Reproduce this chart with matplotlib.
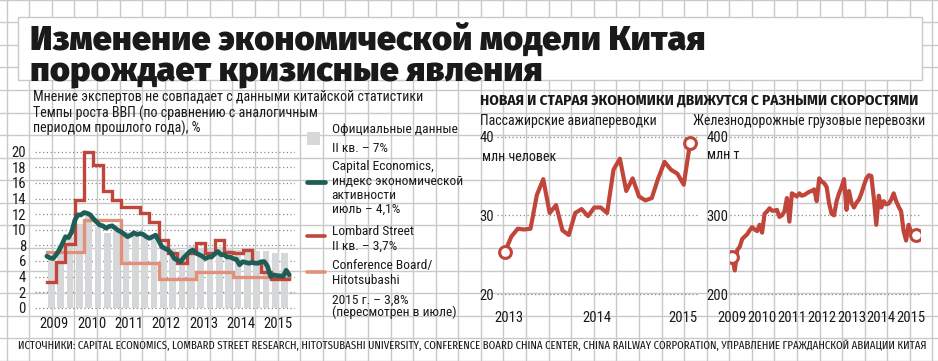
import matplotlib
matplotlib.use("Agg")
import matplotlib.pyplot as plt
from matplotlib import font_manager as fm
from matplotlib.lines import Line2D
from matplotlib.patches import Rectangle

# ---------------- data ----------------
# Left chart: China GDP growth, % y/y
quarter_start = [2009 + i * 0.25 for i in range(26)]          # 2009Q1 .. 2015Q2
official_gdp = [6.6, 8.1, 9.1, 10.7,
                11.9, 10.3, 9.6, 9.8,
                9.7, 9.5, 9.1, 8.9,
                8.1, 7.6, 7.4, 7.9,
                7.7, 7.5, 7.8, 7.7,
                7.4, 7.5, 7.3, 7.3,
                7.0, 7.0]
lombard_street = [3.3, 5.8, 8.2, 13.8,
                  20.0, 18.3, 15.0, 13.8,
                  12.9, 12.9, 12.2, 11.0,
                  8.7, 7.0, 5.7, 7.0,
                  8.3, 7.0, 8.7, 7.2,
                  7.0, 7.4, 5.9, 4.6,
                  3.7, 3.7]
cb_years = [2009, 2010, 2011, 2012, 2013, 2014, 2015]
conference_board = [7.1, 11.2, 5.7, 3.7, 4.6, 4.0, 3.8]
# Capital Economics activity index, monthly Jan 2009 .. Jul 2015
capital_economics = [6.6, 6.4, 6.3, 6.8, 7.4, 8.2, 9.1, 9.0, 9.7, 11.2, 11.9, 11.9,
                     12.2, 12.1, 11.9, 11.4, 11.0, 10.6, 10.5, 10.2, 10.4, 10.5, 10.2, 9.9,
                     9.7, 9.4, 9.1, 9.3, 9.6, 9.4, 9.5, 9.4, 9.1, 8.9, 9.1, 9.3,
                     8.6, 7.8, 7.6, 7.4, 7.0, 6.3, 6.1, 5.9, 6.4, 6.8, 7.2, 7.4,
                     7.0, 6.8, 6.6, 6.3, 6.5, 6.5, 6.9, 7.2, 6.8, 6.8, 6.5, 6.5,
                     6.3, 6.2, 5.5, 5.9, 5.8, 5.7, 5.8, 5.7, 5.7, 5.9, 5.9, 5.3,
                     4.0, 4.2, 4.1, 4.1, 4.0, 4.8, 4.2]
gdp_yticks = [0, 2, 4, 6, 8, 10, 12, 14, 16, 18, 20]
gdp_years = ["2009", "2010", "2011", "2012", "2013", "2014", "2015"]

# Passenger air traffic, mln people, monthly Jan 2013 .. Jun 2015
air_passengers = [25.4, 27.3, 28.3, 28.2, 28.3, 32.6, 34.6, 30.3, 31.3, 28.1,
                  27.5, 30.3, 30.8, 29.9, 31.0, 31.0, 30.3, 35.8, 37.2, 33.1,
                  34.7, 32.4, 31.9, 32.2, 34.7, 36.8, 35.8, 35.3, 33.9, 39.2]
air_yticks = [20, 30, 40]
air_years = ["2013", "2014", "2015"]

# Rail freight, mln t, monthly Jan 2009 .. Mar 2015
rail_freight = [247, 230, 256, 260, 270, 273, 276, 281, 285, 282, 280, 288,
                278, 302, 305, 309, 306, 306, 307, 298, 300, 305, 322, 292,
                328, 326, 324, 328, 325, 326, 328, 330, 331, 333, 318, 347,
                343, 341, 336, 315, 302, 300, 318, 328, 336, 346, 307, 331,
                316, 310, 316, 320, 328, 338, 347, 351, 350, 322, 288, 325,
                310, 318, 314, 315, 320, 328, 318, 311, 305, 280, 268, 288,
                279, 277, 275]
rail_yticks = [200, 300, 400]
rail_years = ["2009", "2010", "2011", "2012", "2013", "2014", "2015"]

# ---------------- style ----------------
W, H, DPI = 938, 361, 100
RED = "#c0453b"
TEAL = "#1f5d57"
SALMON = "#e2907a"
BARC = "#d6d7d9"
GRIDC = "#c9c9c9"
TXT = "#1a1a1a"

avail = {f.name for f in fm.fontManager.ttflist}


def pick(*names):
    for n in names:
        if n in avail:
            return n
    return "DejaVu Sans"


TITLE_FONT = pick("Fira Sans", "Roboto", "Inter", "DejaVu Sans")
BODY_FONT = pick("Roboto Condensed", "Fira Sans Condensed", "PT Sans Narrow", "Archivo Narrow")
HEAD_FONT = pick("Fira Sans Condensed", "Roboto Condensed", "PT Sans Narrow")
SRC_FONT = pick("Fira Sans Extra Condensed", "Roboto Condensed", "PT Sans Narrow")

fig = plt.figure(figsize=(W / DPI, H / DPI), dpi=DPI)
fig.patch.set_facecolor("white")
renderer = fig.canvas.get_renderer()


def fx(x):
    return x / W


def fy(y):
    return 1 - y / H


def ax_px(left, top, right, bottom, **kw):
    return fig.add_axes([fx(left), fy(bottom), (right - left) / W, (bottom - top) / H], **kw)


def ftext(x, y, s, size, family, weight="normal", ha="left", va="center", fit=None, color=TXT, z=5):
    t = fig.text(fx(x), fy(y), s, fontsize=size, family=family, weight=weight,
                 ha=ha, va=va, color=color, zorder=z)
    if fit:
        w = t.get_window_extent(renderer).width
        t.set_fontsize(size * fit / w)
    return t


# ---------------- background grid paper ----------------
bg = fig.add_axes([0, 0, 1, 1], zorder=-10)
bg.set_xlim(0, W)
bg.set_ylim(H, 0)
bg.axis("off")
k = 0
while 6.7 + 22.58 * k < W:
    bg.axvline(6.7 + 22.58 * k, color=GRIDC, lw=1.0)
    k += 1
k = 0
while -0.3 + 22.58 * k < H + 1:
    bg.axhline(-0.3 + 22.58 * k, color=GRIDC, lw=1.0)
    k += 1
# white title box
bg.add_patch(Rectangle((18, 16.7), 921.7 - 18, 80 - 16.7, facecolor="white",
                       edgecolor=GRIDC, lw=1.0, zorder=3))

# ---------------- titles ----------------
t1 = ftext(30, 50, "Изменение экономической модели Китая", 27, TITLE_FONT,
           weight=900, va="baseline", fit=675)
ftext(30, 81, "порождает кризисные явления", t1.get_fontsize(), TITLE_FONT,
      weight=900, va="baseline")

# left block texts
s1 = ftext(33, 97, "Мнение экспертов не совпадает с данными китайской статистики",
           9.5, BODY_FONT, fit=392)
bs = s1.get_fontsize()
ftext(33, 113, "Темпы роста ВВП (по сравнению с аналогичным", bs, BODY_FONT)
ftext(33, 128.5, "периодом прошлого года), %", bs, BODY_FONT)

# right block texts
ftext(480, 101, "НОВАЯ И СТАРАЯ ЭКОНОМИКИ ДВИЖУТСЯ С РАЗНЫМИ СКОРОСТЯМИ", 10,
      HEAD_FONT, weight="bold", fit=437)
ftext(480, 121, "Пассажирские авиапереводки", bs, BODY_FONT, fit=177)
ftext(693, 121, "Железнодорожные грузовые перевозки", bs, BODY_FONT, fit=232)
ftext(482, 157, "млн человек", bs, BODY_FONT)
ftext(707, 155, "млн т", bs, BODY_FONT)

# sources
ftext(18, 345.5, "ИСТОЧНИКИ: CAPITAL ECONOMICS, LOMBARD STREET RESEARCH, HITOTSUBASHI UNIVERSITY, "
      "CONFERENCE BOARD CHINA CENTER, CHINA RAILWAY CORPORATION, УПРАВЛЕНИЕ ГРАЖДАНСКОЙ АВИАЦИИ КИТАЯ",
      8, SRC_FONT, fit=913)

TICK_PT = 10.5


def style_axis(ax):
    ax.set_facecolor("none")
    for sp in ax.spines.values():
        sp.set_visible(False)
    ax.tick_params(length=0, labelsize=TICK_PT, colors=TXT)
    for lab in ax.get_xticklabels() + ax.get_yticklabels():
        lab.set_family(BODY_FONT)
    ax.yaxis.grid(True, color="#8a8a8a", lw=0.9, linestyle=(0, (1, 2)))
    ax.xaxis.grid(False)
    ax.set_axisbelow(True)


# ---------------- left chart ----------------
ax1 = ax_px(35, 145, 295, 315)
ax1.bar([q + 0.125 for q in quarter_start], official_gdp, width=0.18, color=BARC, zorder=1)
ax1.step(cb_years + [2015.5], conference_board + [conference_board[-1]], where="post",
         color=SALMON, lw=2.4, zorder=2, solid_joinstyle="miter")
ax1.step(quarter_start + [2015.5], lombard_street + [lombard_street[-1]], where="post",
         color=RED, lw=2.4, zorder=3, solid_joinstyle="miter")
ax1.plot([2009 + m / 12 for m in range(len(capital_economics))], capital_economics,
         color=TEAL, lw=3.4, zorder=4, solid_joinstyle="round", solid_capstyle="round")
ax1.set_xlim(2008.683, 2015.653)
ax1.set_ylim(-0.936, 20.86)
ax1.set_yticks(gdp_yticks)
ax1.set_yticklabels([str(v) for v in gdp_yticks])
ax1.set_xticks([int(y) + 0.2 for y in gdp_years])
ax1.set_xticklabels(gdp_years)
style_axis(ax1)
ax1.tick_params(axis="y", pad=6.5)
ax1.tick_params(axis="x", pad=1.5)

# legend for left chart
leg_x0, leg_x1 = 307, 325
bg.add_patch(Rectangle((307, 132), 13, 13, facecolor=BARC, edgecolor="none", zorder=4))
bg.add_line(Line2D([leg_x0, leg_x1], [181.7, 181.7], color=TEAL, lw=3.4, zorder=4,
                   solid_capstyle="round"))
bg.add_line(Line2D([leg_x0, leg_x1], [236, 236], color=RED, lw=2.6, zorder=4,
                   solid_capstyle="round"))
bg.add_line(Line2D([leg_x0, leg_x1], [271.7, 271.7], color=SALMON, lw=2.6, zorder=4,
                   solid_capstyle="round"))
lt = ftext(331.7, 130, "Официальные данные", bs, BODY_FONT, fit=125)
ls = lt.get_fontsize()
for yy, s in [(148, "II кв. – 7%"),
              (166.7, "Capital Economics,"), (181.7, "индекс экономической"),
              (195.5, "активности"), (209.5, "июль – 4,1%"),
              (231.7, "Lombard Street"), (246.7, "II кв. – 3,7%"),
              (266, "Conference Board/"), (280.5, "Hitotsubashi"),
              (300, "2015 г. – 3,8%"), (312, "(пересмотрен в июле)")]:
    ftext(331.7, yy, s, ls, BODY_FONT)

# ---------------- air passengers ----------------
ax2 = ax_px(497, 130, 700, 300)
air_x = [2013 + m / 12 for m in range(len(air_passengers))]
ax2.plot(air_x, air_passengers, color=RED, lw=3.0, zorder=3, solid_joinstyle="round")
ax2.plot([air_x[0], air_x[-1]], [air_passengers[0], air_passengers[-1]], linestyle="none",
         marker="o", ms=8.5, mfc="white", mec=RED, mew=2.2, zorder=4)
ax2.set_xlim(2012.896, 2015.546)
ax2.set_ylim(19.24, 40.85)
ax2.set_yticks(air_yticks)
ax2.set_yticklabels([str(v) for v in air_yticks])
ax2.set_xticks([2013.05, 2014.2, 2015.32])
ax2.set_xticklabels(air_years)
style_axis(ax2)
ax2.tick_params(axis="y", pad=2)
ax2.tick_params(axis="x", pad=8)

# ---------------- rail freight ----------------
ax3 = ax_px(730, 130, 920, 300)
rail_x = [2009 + m / 12 for m in range(len(rail_freight))]
ax3.plot(rail_x, rail_freight, color=RED, lw=3.0, zorder=3, solid_joinstyle="round")
ax3.plot([rail_x[0], rail_x[-1]], [rail_freight[0], rail_freight[-1]], linestyle="none",
         marker="o", ms=8.5, mfc="white", mec=RED, mew=2.2, zorder=4)
ax3.set_xlim(2008.923, 2015.30)
ax3.set_ylim(192.4, 408.5)
ax3.set_yticks(rail_yticks)
ax3.set_yticklabels([str(v) for v in rail_yticks])
ax3.set_xticks([int(y) for y in rail_years])
ax3.set_xticklabels(rail_years)
style_axis(ax3)
ax3.tick_params(axis="y", pad=1)
ax3.tick_params(axis="x", pad=8)

fig.savefig("out.png", dpi=DPI, facecolor="white")
